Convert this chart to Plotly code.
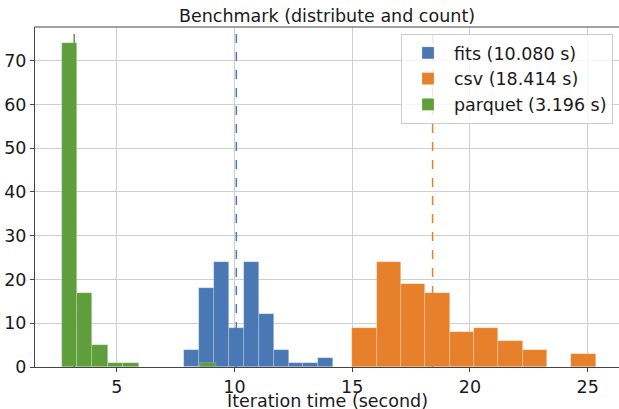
import plotly.graph_objects as go

# ---- data ----
series_names = ["fits", "csv", "parquet"]
mean_times = [10.080, 18.414, 3.196]
series_colors = ["#4a78b4", "#e6802a", "#5f9e3a"]

fits_bin_start = 7.85
fits_bin_width = 0.635
fits_counts = [4, 18, 24, 9, 24, 12, 4, 1, 1, 2]

csv_bin_start = 15.0
csv_bin_width = 1.034
csv_counts = [9, 24, 19, 17, 8, 9, 6, 4, 0, 3]

parquet_bin_start = 2.66
parquet_bin_width = 0.654
parquet_counts = [74, 17, 5, 1, 1, 0, 0, 0, 0, 1]

x_ticks = [5, 10, 15, 20, 25]
y_ticks = [0, 10, 20, 30, 40, 50, 60, 70]
x_range = [1.53, 26.33]
y_range = [0, 77.7]

starts = [fits_bin_start, csv_bin_start, parquet_bin_start]
widths = [fits_bin_width, csv_bin_width, parquet_bin_width]
counts = [fits_counts, csv_counts, parquet_counts]

FONT = "DejaVu Sans"
W, H = 619, 409
L, T, PW, PH = 35, 27, 584, 340

fig = go.Figure()

# mean lines (drawn beneath the bars)
for name, m, c in zip(series_names, mean_times, series_colors):
    fig.add_trace(go.Scatter(
        x=[m, m], y=y_range, mode="lines",
        line=dict(color=c, width=1.5, dash="dash"),
        showlegend=False, hoverinfo="skip"))

for name, m, c, s, w, cnt in zip(series_names, mean_times, series_colors, starts, widths, counts):
    centers = [s + w * (i + 0.5) for i in range(len(cnt))]
    fig.add_trace(go.Bar(
        x=centers, y=cnt, width=[w] * len(cnt),
        name=f"{name} ({m:.3f} s)",
        marker=dict(color=c, line=dict(color="rgba(255,255,255,0.35)", width=0.6))))

fig.update_layout(
    width=W, height=H,
    margin=dict(l=L, r=W - L - PW, t=T, b=H - T - PH, autoexpand=False),
    paper_bgcolor="white", plot_bgcolor="white",
    barmode="overlay", bargap=0,
    font=dict(family=FONT, size=18, color="#1a1a1a"),
    title=dict(text="Benchmark (distribute and count)", xref="paper", x=0.5, xanchor="center",
               yref="container", y=1 - 16 / H, yanchor="middle",
               font=dict(size=17.5, family=FONT, color="#1a1a1a")),
    legend=dict(x=(613 - L) / PW, y=1 - (34 - T) / PH, xanchor="right", yanchor="top",
                bgcolor="rgba(255,255,255,0.8)", bordercolor="#cccccc", borderwidth=1,
                font=dict(size=17.5, family=FONT), tracegroupgap=0, itemwidth=42),
    showlegend=True,
    annotations=[dict(text="Iteration time (second)", xref="paper", yref="paper",
                      x=0.5, y=-(401 - 367) / PH, xanchor="center", yanchor="middle",
                      showarrow=False, font=dict(size=17.5, family=FONT, color="#1a1a1a"))],
)

fig.update_xaxes(range=x_range, tickvals=x_ticks, ticks="outside", ticklen=4, tickcolor="#444",
                 showgrid=True, gridcolor="#cfcfcf", gridwidth=1, automargin=False,
                 showline=True, linecolor="#444", linewidth=1, mirror=False,
                 zeroline=False, tickfont=dict(size=17.5))
fig.update_yaxes(range=y_range, tickvals=y_ticks, ticks="outside", ticklen=4, tickcolor="#444",
                 showgrid=True, gridcolor="#cfcfcf", gridwidth=1, automargin=False,
                 showline=True, linecolor="#444", linewidth=1, mirror=False,
                 zeroline=False, tickfont=dict(size=17.5))
# top spine
fig.add_shape(type="line", xref="paper", yref="paper", x0=0, x1=1, y0=1, y1=1,
              line=dict(color="#444", width=1))

fig.write_html("out.html", config={"displayModeBar": False},
               post_script="document.body.style.margin='0';document.body.style.overflow='hidden';")
